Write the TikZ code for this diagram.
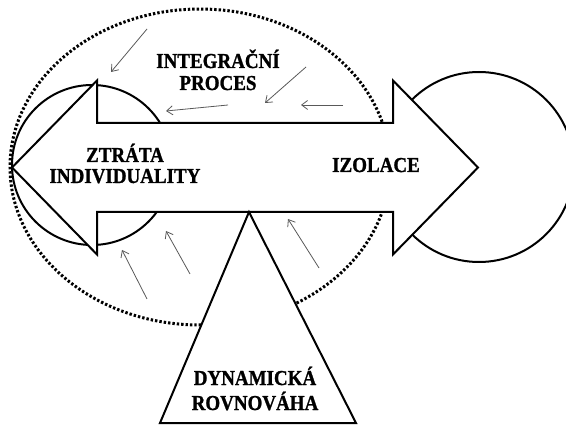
\documentclass[tikz,border=0pt]{standalone}
\usepackage{fontspec}
\usepackage{graphicx}
\setmainfont{Liberation Serif}[BoldFeatures={FakeBold=1.2}]
\usetikzlibrary{arrows.meta}
\newcommand{\tallword}[1]{\scalebox{1}[1.12]{#1}}
\tikzset{
  outline/.style={draw=black, line width=2pt, fill=white, line join=miter},
  dotring/.style={draw=black, line width=3pt, dash pattern=on 2.4pt off 2pt},
  thinarrow/.style={draw=black!65, line width=0.8pt, -{Straight Barb[length=6pt,width=9pt]}},
  txt/.style={font=\bfseries\fontsize{19}{#1}\selectfont, align=center, inner sep=0pt, anchor=base},
  txt/.default=22
}
\begin{document}
\begin{tikzpicture}[x=1pt,y=-1pt]
\useasboundingbox (0,0) rectangle (566,425);
\clip (0,0) rectangle (566,425);
% dotted ellipse
\draw[dotring] (200,167) ellipse [x radius=190, y radius=158];
% circles
\draw[outline] (92,165) circle [radius=80];
\draw[outline] (479,167) circle [radius=95];
% double arrow
\draw[outline] (12,167.5) -- (97,80.5) -- (97,123) -- (393,123) -- (393,80.5)
  -- (478,167.5) -- (393,254.5) -- (393,212) -- (97,212) -- (97,254.5) -- cycle;
% triangle
\draw[outline] (249,212) -- (356,423) -- (160,423) -- cycle;
% labels (anchor = baseline of the last line)
\node[txt=22] (integ) at (218,90) {\tallword{INTEGRAČNÍ}\\\tallword{PROCES}};
\node[txt=21] (ztrata) at (125,183) {\tallword{ZTRÁTA}\\\tallword{INDIVIDUALITY}};
\node[txt] (izol) at (376,172) {\tallword{IZOLACE}};
\node[txt=25] (dyn) at (255,410) {\tallword{DYNAMICKÁ}\\\tallword{ROVNOVÁHA}};
% thin arrows
\coordinate (s1) at (147,29); \coordinate (e1) at (111,72);
\coordinate (s2) at (228,105); \coordinate (e2) at (166,111);
\coordinate (s3) at (306,67); \coordinate (e3) at (265,103);
\coordinate (s4) at (343,105); \coordinate (e4) at (301,105);
\coordinate (s5) at (147,299); \coordinate (e5) at (122,250);
\coordinate (s6) at (190,274); \coordinate (e6) at (166,231);
\coordinate (s7) at (319,268); \coordinate (e7) at (288,219);
\foreach \i in {1,...,7} { \draw[thinarrow] (s\i) -- (e\i); }
\end{tikzpicture}
\end{document}
